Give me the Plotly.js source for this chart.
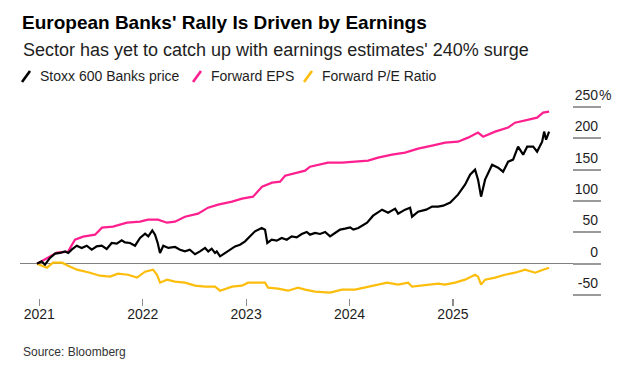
<!DOCTYPE html>
<html><head><meta charset="utf-8">
<script src="https://cdn.plot.ly/plotly-3.0.1.min.js"></script>
<style>html,body{margin:0;padding:0;background:#fff}#chart{width:638px;height:379px}</style>
</head><body><div id="chart"></div>
<script>
// ---- data (time in decimal years, values in % change) ----
const priceT = [2020.978,2021.023,2021.055,2021.103,2021.152,2021.200,2021.249,2021.280,2021.313,2021.362,2021.410,2021.458,2021.507,2021.555,2021.603,2021.652,2021.700,2021.749,2021.797,2021.829,2021.877,2021.926,2021.974,2022.023,2022.054,2022.093,2022.119,2022.145,2022.167,2022.199,2022.248,2022.313,2022.361,2022.409,2022.455,2022.506,2022.554,2022.603,2022.634,2022.667,2022.699,2022.716,2022.748,2022.796,2022.851,2022.893,2022.941,2022.990,2023.038,2023.086,2023.151,2023.183,2023.205,2023.248,2023.296,2023.344,2023.393,2023.441,2023.489,2023.538,2023.586,2023.618,2023.667,2023.715,2023.764,2023.812,2023.860,2023.909,2023.957,2024.006,2024.037,2024.085,2024.170,2024.228,2024.315,2024.373,2024.441,2024.470,2024.537,2024.586,2024.605,2024.663,2024.741,2024.799,2024.857,2024.906,2024.974,2025.049,2025.117,2025.166,2025.214,2025.243,2025.272,2025.311,2025.379,2025.437,2025.485,2025.534,2025.582,2025.630,2025.679,2025.718,2025.776,2025.814,2025.863,2025.882,2025.901,2025.930];
const priceV = [0,3.7,-1.6,9.1,16.0,17.1,19.6,17.1,22.3,28.7,25.1,28.7,22.3,27.6,28.7,23.5,33.0,31.9,37.2,34.0,33.0,28.7,41.0,47.9,43.6,53.1,46.3,33.0,17.1,28.7,25.1,26.7,22.3,19.6,22.3,15.0,19.6,25.1,19.6,23.9,17.1,19.6,11.7,17.1,22.3,27.6,30.3,35.6,43.6,51.6,57.0,54.3,33.0,38.3,36.7,41.0,38.3,43.6,42.0,47.4,50.6,46.3,49.0,47.4,50.6,43.6,49.0,54.3,55.9,57.9,54.3,57.0,65.4,76.6,86.2,81.4,87.8,79.8,86.2,89.4,75.0,83.0,86.2,91.0,91.0,92.6,97.4,110.1,126.1,142.0,150.0,134.1,106.9,134.1,158.0,153.2,146.8,162.8,166.0,186.7,174.0,186.7,186.7,178.8,194.7,210.7,197.9,210.7];

const epsT = [2020.978,2021.171,2021.278,2021.345,2021.423,2021.539,2021.606,2021.713,2021.848,2021.974,2022.051,2022.148,2022.235,2022.312,2022.409,2022.535,2022.632,2022.729,2022.864,2022.960,2023.067,2023.154,2023.251,2023.328,2023.377,2023.502,2023.570,2023.618,2023.667,2023.792,2023.927,2024.054,2024.180,2024.276,2024.411,2024.537,2024.663,2024.799,2024.925,2025.049,2025.146,2025.243,2025.292,2025.408,2025.534,2025.601,2025.727,2025.814,2025.872,2025.930];
const epsV = [0,17.6,19.2,38.3,43.1,46.3,57.5,59.1,65.4,67.0,70.2,70.2,65.4,67.0,75.0,79.8,89.4,94.2,99.0,103.7,106.9,122.9,129.3,130.9,140.4,145.2,148.4,154.8,156.4,161.2,161.2,162.8,164.4,169.2,174.0,177.2,183.5,188.3,193.1,194.7,201.1,209.1,202.7,210.7,217.1,225.0,229.8,233.0,241.0,242.6];

const peT = [2020.978,2021.074,2021.133,2021.220,2021.278,2021.365,2021.490,2021.587,2021.684,2021.761,2021.858,2021.945,2022.022,2022.100,2022.138,2022.168,2022.235,2022.312,2022.409,2022.506,2022.602,2022.699,2022.748,2022.864,2022.960,2023.019,2023.115,2023.183,2023.212,2023.309,2023.406,2023.502,2023.570,2023.667,2023.812,2023.928,2024.054,2024.150,2024.266,2024.363,2024.470,2024.567,2024.605,2024.741,2024.857,2024.925,2025.020,2025.117,2025.214,2025.243,2025.272,2025.311,2025.408,2025.504,2025.601,2025.698,2025.795,2025.872,2025.930];
const peV = [0,-6.4,1.6,1.6,-3.2,-9.6,-14.4,-19.2,-20.7,-16.0,-17.6,-22.3,-12.8,-9.6,-17.6,-30.3,-25.5,-28.7,-30.3,-35.1,-36.7,-36.7,-43.1,-36.7,-35.1,-30.3,-30.3,-30.3,-38.3,-39.9,-43.1,-38.3,-41.5,-44.7,-46.3,-41.5,-41.5,-38.3,-33.5,-30.3,-33.5,-30.3,-36.7,-33.5,-31.9,-33.5,-30.3,-25.5,-17.6,-20.7,-33.5,-25.5,-22.3,-17.6,-14.4,-9.6,-14.4,-9.6,-6.4];

const yearTicks = [2021,2022,2023,2024,2025];
const yearLabels = ['2021','2022','2023','2024','2025'];
const valTicks = [-50,0,50,100,150,200,250];
const valLabels = ['-50','0','50','100','150','200','250'];
const seriesNames = ['Stoxx 600 Banks price','Forward EPS','Forward P/E Ratio'];
const seriesColors = ['#000000','#ff1f8e','#fdbd0c'];

// ---- layout helpers (pixel -> paper) ----
const L=20, R=601, T=80, B=298;
const px = x => (x-L)/(R-L);
const py = y => (B-y)/(B-T);
const FONT = '"Liberation Sans", Arial, sans-serif';
const yRange = [-54.77, 293.08];
const xRange = [2020.8133, 2026.432];

const traces = [
  {x:epsT, y:epsV, type:'scatter', mode:'lines', name:seriesNames[1], line:{color:seriesColors[1], width:2.2}, showlegend:false, hoverinfo:'skip'},
  {x:peT, y:peV, type:'scatter', mode:'lines', name:seriesNames[2], line:{color:seriesColors[2], width:2.2}, showlegend:false, hoverinfo:'skip'},
  {x:priceT, y:priceV, type:'scatter', mode:'lines', name:seriesNames[0], line:{color:seriesColors[0], width:2.2}, showlegend:false, hoverinfo:'skip'},
  {x:[], y:[], xaxis:'x2', yaxis:'y2', type:'scatter', mode:'lines', showlegend:false, hoverinfo:'skip'}
];

const legendX = [22, 193, 304];
const legendTextX = [39, 210, 321];
const shapes = seriesColors.map((c,i)=>({type:'line', xref:'paper', yref:'paper',
  x0:px(legendX[i]), y0:py(82), x1:px(legendX[i]+8), y1:py(71), line:{color:c, width:2.6}}));

const annotations = [
  {text:"Sector has yet to catch up with earnings estimates' 240% surge", xref:'paper', yref:'paper', x:px(21), y:py(50), xanchor:'left', yanchor:'middle', showarrow:false, font:{family:FONT, size:18, color:'#1e1e1e'}},
  {text:'Source: Bloomberg', xref:'paper', yref:'paper', x:px(21), y:py(352), xanchor:'left', yanchor:'middle', showarrow:false, font:{family:FONT, size:12, color:'#333'}},
  {text:'%', xref:'paper', yref:'y', x:1, y:valTicks[6], xanchor:'left', yanchor:'middle', yshift:12, xshift:-4, showarrow:false, font:{family:FONT, size:14, color:'#1e1e1e'}}
].concat(seriesNames.map((n,i)=>({text:n, xref:'paper', yref:'paper', x:px(legendTextX[i]-1), y:py(76), xanchor:'left', yanchor:'middle', showarrow:false, font:{family:FONT, size:14, color:'#1e1e1e'}})));

const layout = {
  width:638, height:379,
  margin:{l:L, r:638-R, t:T, b:379-B, pad:0},
  paper_bgcolor:'#fff', plot_bgcolor:'rgba(0,0,0,0)',
  showlegend:false,
  title:{text:"European Banks' Rally Is Driven by Earnings", xref:'container', yref:'container', x:22/638, xanchor:'left', y:1-22/379, yanchor:'middle', font:{family:FONT, size:19, weight:'bold', color:'#000'}},
  xaxis:{domain:[0,1], range:xRange, tickvals:yearTicks, ticktext:yearLabels, ticks:'outside', ticklen:7, tickwidth:1.2, tickcolor:'#8c8c8c', ticklabelstandoff:-4, showgrid:false, zeroline:false, showline:false, tickfont:{family:FONT, size:14, color:'#1e1e1e'}},
  yaxis:{domain:[0,1], range:yRange, showgrid:false, zeroline:true, zerolinecolor:'#808080', zerolinewidth:1.5, showticklabels:false, ticks:'', showline:false},
  xaxis2:{domain:[px(573),1], anchor:'y2', range:[0,1], visible:false},
  yaxis2:{domain:[0,1], anchor:'x2', range:yRange, side:'right', showgrid:true, gridcolor:'#9a9a9a', gridwidth:2, zeroline:false, showline:false, ticks:'', tickvals:valTicks, ticktext:valLabels, ticklabelposition:'inside', ticklabelshift:-12, ticklabelstandoff:0, tickfont:{family:FONT, size:14, color:'#1e1e1e'}},
  shapes:shapes,
  annotations:annotations
};

Plotly.newPlot('chart', traces, layout, {staticPlot:true, displayModeBar:false});
</script>
</body></html>
